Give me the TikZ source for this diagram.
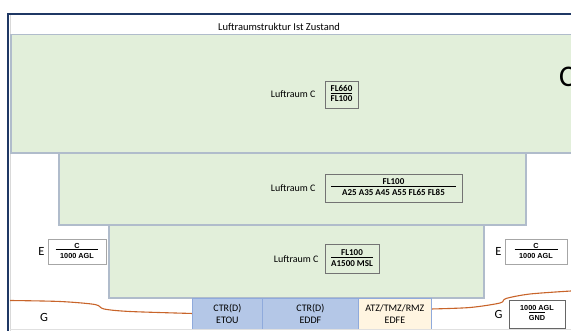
\documentclass[tikz,border=0pt]{standalone}
\usepackage{fontspec}
\setmainfont{Carlito}
\newfontfamily\arialfont{Liberation Sans}
\usetikzlibrary{positioning}

\definecolor{lrgruen}{HTML}{E2EFDA}
\definecolor{lrrand}{HTML}{B0BCCB}
\definecolor{ctrblau}{HTML}{B4C7E7}
\definecolor{ctrrand}{HTML}{8FAADC}
\definecolor{atzgelb}{HTML}{FFF5E1}
\definecolor{grenzorange}{HTML}{C8642A}
\definecolor{rahmenblau}{HTML}{1F3864}

\setlength{\arrayrulewidth}{0.5pt}
% Ober-/Untergrenze mit Bruchstrich
\newcommand{\grenze}[3]{\begin{tabular}{@{}c@{}}\makebox[#3]{#1}\\[-1.5pt]\hline\rule{0pt}{8.5pt}#2\end{tabular}}

\begin{document}
\begin{tikzpicture}[x=1pt,y=-1pt,
  lraum/.style={fill=lrgruen,draw=lrrand,line width=1.3pt},
  grenzbox/.style={draw=black!55,line width=0.7pt,inner sep=0pt,align=center,font=\bfseries\fontsize{9}{10.5}\selectfont},
  ebox/.style={grenzbox,fill=white,draw=black!35,font=\arialfont\bfseries\fontsize{7.3}{8.5}\selectfont},
  lbl/.style={inner sep=0pt,font=\fontsize{10}{12}\selectfont},
  klasse/.style={inner sep=0pt,font=\fontsize{12.5}{14}\selectfont},
  ctr/.style={fill=ctrblau,draw=ctrrand,line width=0.8pt,align=center,minimum height=31,inner sep=0pt,font=\fontsize{10}{11.5}\selectfont},
  atz/.style={ctr,fill=atzgelb}]
\useasboundingbox (0,0) rectangle (571,331);
\clip (0,0) rectangle (571,331);

% Rahmen und Titel
\draw[rahmenblau,line width=2.2pt] (8,400) |- (620,14);
\draw[black!15,line width=1pt] (10.5,400) -- (10.5,15.5);
\node[lbl,font=\fontsize{10.5}{12}\selectfont] (titel) at (279,26.5) {Luftraumstruktur Ist Zustand};

% Luftraeume C
\draw[lraum] (11,34.5) rectangle (590,153);
\draw[lraum] (59,153) rectangle (526,225);
\draw[lraum] (109,225) rectangle (484,298);

\node[grenzbox,minimum width=33,minimum height=27] (g1) at (341.5,94.5) {\grenze{FL660}{FL100}{0pt}};
\node[grenzbox,minimum width=137,minimum height=28] (g2) at (393.5,188) {\grenze{FL100}{A25 A35 A45 A55 FL65 FL85}{125pt}};
\node[grenzbox,minimum width=54,minimum height=29] (g3) at (352,259) {\grenze{FL100}{A1500 MSL}{0pt}};
\node[lbl,left=9pt of g1] (lr1) {Luftraum C};
\node[lbl,left=9pt of g2] (lr2) {Luftraum C};
\node[lbl,left=6pt of g3] (lr3) {Luftraum C};
\node[inner sep=0pt,anchor=west,font=\fontsize{30}{34}\selectfont] (cgross) at (559,77) {C};

% Luftraum E und G
\node[ebox,minimum width=58,minimum height=25] (elinks) at (77,251.5) {\grenze{C}{1000 AGL}{43pt}};
\node[ebox,minimum width=62,minimum height=25] (erechts) at (536,251.5) {\grenze{C}{1000 AGL}{43pt}};
\node[ebox,draw=black!60,minimum width=56,minimum height=28] (grechts) at (537,314) {\grenze{1000 AGL}{GND}{0pt}};
\node[klasse,left=3pt of elinks] (ke1) {E};
\node[klasse,left=3pt of erechts] (ke2) {E};
\node[klasse,left=6pt of grechts] (kg2) {G};
\node[klasse] (kg1) at (44,317) {G};

% Grenze G/E
\draw[grenzorange,line width=1.1pt] plot[smooth,tension=0.5] coordinates {(10,300.5) (60,301.5) (95,304.5) (104,309) (130,311.5) (193,313.5)};
\draw[grenzorange,line width=1.1pt] plot[smooth,tension=0.5] coordinates {(431,309) (470,307.5) (500,303) (506,298.5) (530,294) (571,291)};

% Kontrollzonen
\foreach \name/\xl/\breite/\kenn in {etou/192/70/ETOU, eddf/262/96/EDDF} {
  \node[ctr,anchor=north west,minimum width=\breite] (\name) at (\xl,298) {CTR(D)\\\kenn};
}
\node[atz,anchor=north west,minimum width=73] (edfe) at (358,298) {ATZ/TMZ/RMZ\\EDFE};
\draw[black!12,line width=1pt] (10,329.5) -- (571,329.5);
\end{tikzpicture}
\end{document}
